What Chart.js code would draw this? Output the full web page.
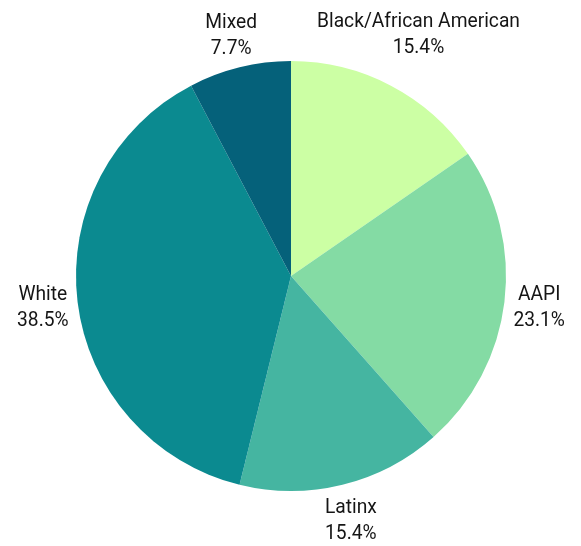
<!DOCTYPE html>
<html>
<head>
<meta charset="utf-8">
<script src="https://cdn.jsdelivr.net/npm/chart.js@4"></script>
<style>
  body { margin: 0; background: #fff; }
  #pie { display: block; }
</style>
</head>
<body>
<canvas id="pie" width="581" height="546"></canvas>
<script>
const categorias = ["Black/African American", "AAPI", "Latinx", "White", "Mixed"];
const cantidades = [2, 3, 2, 5, 1];
const colores = ["#ccffa4", "#84dba4", "#45b5a1", "#0b8a90", "#05617a"];

const total = cantidades.reduce((a, b) => a + b, 0);

// etiquetas fuera del pastel: nombre y porcentaje (letra un poco angosta)
const etiquetasFuera = {
    id: "etiquetasFuera",
    afterDatasetsDraw(chart) {
        const ctx = chart.ctx;
        const meta = chart.getDatasetMeta(0);
        const sx = 0.915;
        ctx.save();
        ctx.font = "21px Roboto";
        ctx.fillStyle = "#151515";
        ctx.textAlign = "center";
        ctx.textBaseline = "middle";
        meta.data.forEach((arc, i) => {
            const ang = (arc.startAngle + arc.endAngle) / 2;
            const pct = (cantidades[i] / total * 100).toFixed(1) + "%";
            const w = ctx.measureText(categorias[i]).width * sx;
            const d = arc.outerRadius + 35 + Math.max(0, w - 60) * 0.17;
            const x = arc.x + Math.cos(ang) * d;
            const y = arc.y + Math.sin(ang) * d + 2;
            ctx.save();
            ctx.translate(x, y);
            ctx.scale(sx, 1);
            ctx.fillText(categorias[i], 0, -13);
            ctx.fillText(pct, 0, 13);
            ctx.restore();
        });
        ctx.restore();
    }
};

const contenedorPie = document.querySelector("#pie").getContext("2d");

const pieChart = new Chart(contenedorPie, {
    type: "pie",
    data: {
        labels: categorias,
        datasets: [{
            data: cantidades,
            backgroundColor: colores,
            borderWidth: 0
        }]
    },
    options: {
        responsive: false,
        animation: false,
        layout: { padding: { top: 61, bottom: 55, left: 76, right: 75 } },
        plugins: {
            legend: { display: false },
            tooltip: { enabled: false }
        }
    },
    plugins: [etiquetasFuera]
});
</script>
</body>
</html>
